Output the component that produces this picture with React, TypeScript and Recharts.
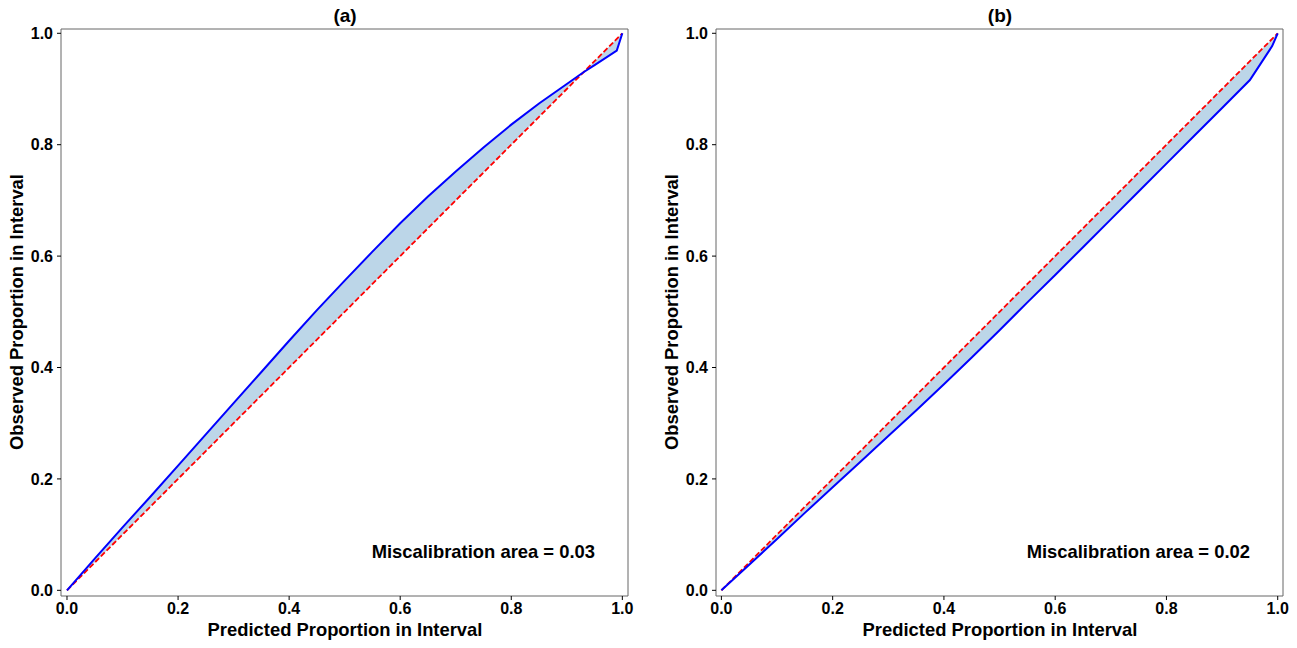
import React from "react";
import { ComposedChart, Line, Area, XAxis, YAxis, ReferenceArea } from "recharts";

const FONT = "'Liberation Sans', Arial, Helvetica, sans-serif";

// Panel (a)
const predA = [0, 0.05, 0.1, 0.15, 0.2, 0.25, 0.3, 0.35, 0.4, 0.45, 0.5, 0.55, 0.6, 0.65, 0.7, 0.75, 0.8, 0.85, 0.9, 0.93, 0.95, 0.99, 1.0];
const obsA = [0, 0.057, 0.113, 0.168, 0.224, 0.28, 0.336, 0.392, 0.448, 0.503, 0.556, 0.608, 0.659, 0.707, 0.752, 0.795, 0.836, 0.874, 0.909, 0.93, 0.943, 0.969, 1.0];

// Panel (b)
const predB = [0, 0.05, 0.1, 0.15, 0.2, 0.25, 0.3, 0.35, 0.4, 0.45, 0.5, 0.55, 0.6, 0.65, 0.7, 0.75, 0.8, 0.85, 0.9, 0.95, 0.99, 1.0];
const obsB = [0, 0.046, 0.092, 0.139, 0.185, 0.231, 0.277, 0.323, 0.37, 0.418, 0.467, 0.517, 0.566, 0.616, 0.666, 0.716, 0.766, 0.816, 0.866, 0.916, 0.977, 1.0];

const tickValues = [0, 0.2, 0.4, 0.6, 0.8, 1.0];
const tickLabels = ["0.0", "0.2", "0.4", "0.6", "0.8", "1.0"];

const titles = ["(a)", "(b)"];
const xLabel = "Predicted Proportion in Interval";
const yLabel = "Observed Proportion in Interval";
const annotations = ["Miscalibration area = 0.03", "Miscalibration area = 0.02"];

function build(xs: number[], ys: number[]) {
  return xs.map((x, i) => ({
    x,
    obs: ys[i],
    diag: x,
    band: [Math.min(x, ys[i]), Math.max(x, ys[i])],
  }));
}

const fmt = (v: number) => {
  const i = tickValues.findIndex((t) => Math.abs(t - v) < 1e-9);
  return i >= 0 ? tickLabels[i] : v.toFixed(1);
};

const tickStyle = { fill: "#000", fontSize: 16, fontWeight: "bold" as const, fontFamily: FONT };

function Panel(props: {
  data: any[];
  width: number;
  margin: { top: number; right: number; bottom: number; left: number };
  xDomain: [number, number];
  yDomain: [number, number];
}) {
  const { data, width, margin, xDomain, yDomain } = props;
  return (
    <ComposedChart width={width} height={648} data={data} margin={margin}>
      <XAxis
        dataKey="x"
        type="number"
        domain={xDomain}
        allowDataOverflow
        ticks={tickValues}
        tickFormatter={fmt}
        tick={tickStyle}
        tickSize={4}
        tickMargin={3}
        height={40}
        axisLine={false}
        tickLine={{ stroke: "#000" }}
        interval={0}
      />
      <YAxis
        type="number"
        domain={yDomain}
        allowDataOverflow
        ticks={tickValues}
        tickFormatter={fmt}
        tick={tickStyle}
        tickSize={4}
        tickMargin={4}
        width={50}
        axisLine={false}
        tickLine={{ stroke: "#000" }}
        interval={0}
      />
      <ReferenceArea
        x1={xDomain[0]}
        x2={xDomain[1]}
        y1={yDomain[0]}
        y2={yDomain[1]}
        fill="none"
        stroke="#666"
        strokeWidth={1}
        ifOverflow="visible"
      />
      <Area
        dataKey="band"
        type="linear"
        stroke="none"
        fill="#bcd6e8"
        fillOpacity={1}
        isAnimationActive={false}
        dot={false}
        activeDot={false}
      />
      <Line
        dataKey="diag"
        type="linear"
        stroke="#ff0000"
        strokeWidth={1.8}
        strokeDasharray="5.5 2.5"
        dot={false}
        activeDot={false}
        isAnimationActive={false}
      />
      <Line
        dataKey="obs"
        type="linear"
        stroke="#0000ff"
        strokeWidth={2}
        dot={false}
        activeDot={false}
        isAnimationActive={false}
      />
    </ComposedChart>
  );
}

const textBase: React.CSSProperties = {
  position: "absolute",
  fontFamily: FONT,
  fontWeight: "bold",
  color: "#000",
  whiteSpace: "nowrap",
  lineHeight: 1,
};

export default function App() {
  const dataA = build(predA, obsA);
  const dataB = build(predB, obsB);
  return (
    <div style={{ position: "absolute", left: 0, top: 0, width: 1297, height: 648, background: "#fff" }}>
      <div style={{ position: "absolute", left: 0, top: 0 }}>
        <Panel
          data={dataA}
          width={648}
          margin={{ top: 29, right: 20, bottom: 12, left: 11 }}
          xDomain={[-0.0108, 1.0102]}
          yDomain={[-0.0102, 1.0077]}
        />
      </div>
      <div style={{ position: "absolute", left: 648, top: 0 }}>
        <Panel
          data={dataB}
          width={649}
          margin={{ top: 29, right: 14, bottom: 12, left: 18 }}
          xDomain={[-0.0097, 1.0095]}
          yDomain={[-0.0102, 1.0077]}
        />
      </div>

      <div style={{ ...textBase, fontSize: 19, left: 345, top: 15, transform: "translate(-50%, -50%)" }}>{titles[0]}</div>
      <div style={{ ...textBase, fontSize: 19, left: 1000, top: 15, transform: "translate(-50%, -50%)" }}>{titles[1]}</div>

      <div style={{ ...textBase, fontSize: 18.4, left: 345, top: 630, transform: "translate(-50%, -50%)" }}>{xLabel}</div>
      <div style={{ ...textBase, fontSize: 18.4, left: 1000, top: 630, transform: "translate(-50%, -50%)" }}>{xLabel}</div>

      <div style={{ ...textBase, fontSize: 18.4, left: 17, top: 312, transform: "translate(-50%, -50%) rotate(-90deg)" }}>{yLabel}</div>
      <div style={{ ...textBase, fontSize: 18.4, left: 672, top: 312, transform: "translate(-50%, -50%) rotate(-90deg)" }}>{yLabel}</div>

      <div style={{ ...textBase, fontSize: 18.4, right: 1297 - 595, top: 552, transform: "translateY(-50%)" }}>{annotations[0]}</div>
      <div style={{ ...textBase, fontSize: 18.4, right: 1297 - 1250, top: 552, transform: "translateY(-50%)" }}>{annotations[1]}</div>
    </div>
  );
}
